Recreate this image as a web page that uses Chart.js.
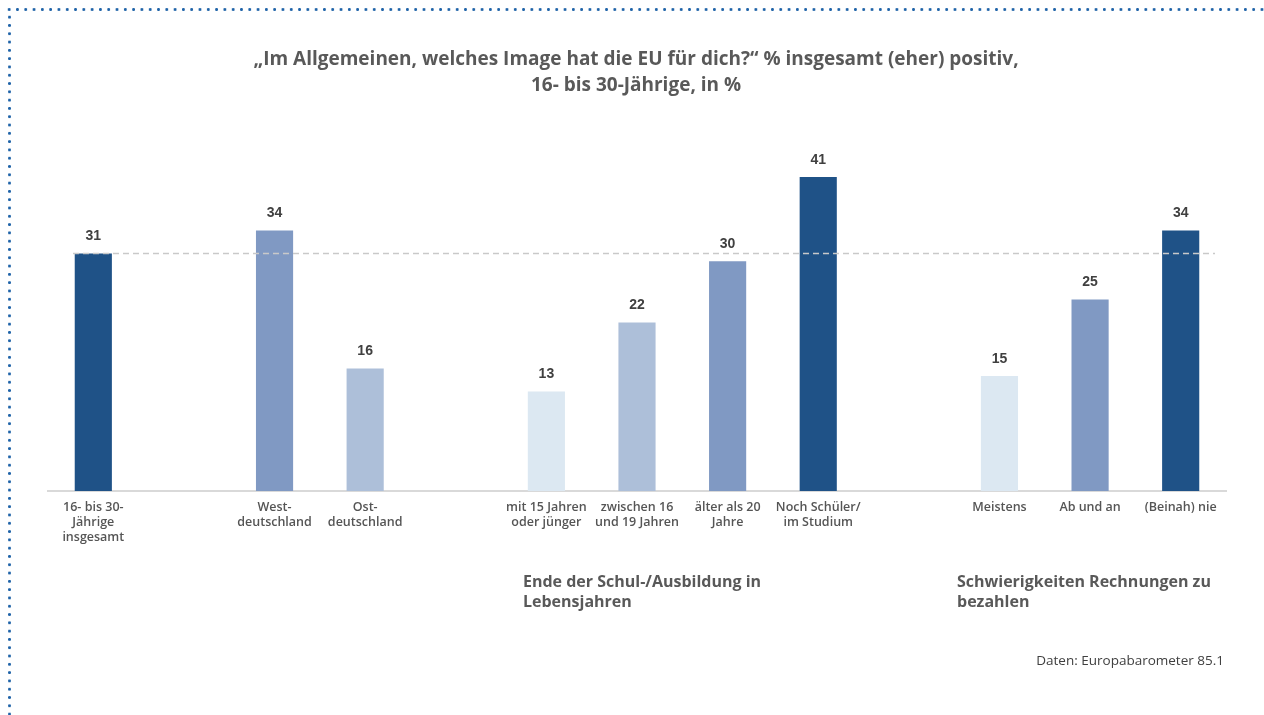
<!DOCTYPE html>
<html lang="de">
<head>
<meta charset="utf-8">
<title>Image der EU – 16- bis 30-Jährige</title>
<script src="https://cdn.jsdelivr.net/npm/chart.js@4/dist/chart.umd.min.js"></script>
<style>
  html, body { margin: 0; padding: 0; background: #ffffff; }
  #wrap { position: relative; width: 1264px; height: 715px; overflow: hidden; }
  #chart { position: absolute; left: 0; top: 0; }
  .dots-top { position: absolute; left: 5px; top: 5px; width: 1259px; height: 9px;
    background-image: radial-gradient(circle, #1f63a8 1.2px, rgba(255,255,255,0) 1.7px);
    background-size: 8.3px 9px; background-repeat: repeat-x; }
  .dots-left { position: absolute; left: 5px; top: 13px; width: 9px; height: 702px;
    background-image: radial-gradient(circle, #1f63a8 1.2px, rgba(255,255,255,0) 1.7px);
    background-size: 9px 8.3px; background-repeat: repeat-y; }
  .title { position: absolute; left: 0; width: 1272px; top: 45px; text-align: center;
    font-family: "Open Sans", sans-serif; font-weight: 700;
    font-size: 19px; line-height: 26px; color: #595959; }
  .group { position: absolute; top: 571px;
    font-family: "Open Sans", sans-serif; font-weight: 700;
    font-size: 16px; line-height: 20px; color: #595959; }
  .source { position: absolute; right: 40px; top: 651px;
    font-family: "Open Sans", sans-serif; font-weight: 400;
    font-size: 13.5px; line-height: 18px; color: #404040; }
</style>
</head>
<body>
<div id="wrap">
  <div class="dots-top"></div>
  <div class="dots-left"></div>
  <canvas id="chart" width="1264" height="715"></canvas>
  <div class="title">„Im Allgemeinen, welches Image hat die EU für dich?“ % insgesamt (eher) positiv,<br>16- bis 30-Jährige, in %</div>
  <div class="group" style="left:523px">Ende der Schul-/Ausbildung in<br>Lebensjahren</div>
  <div class="group" style="left:957px">Schwierigkeiten Rechnungen zu<br>bezahlen</div>
  <div class="source">Daten: Europabarometer 85.1</div>
</div>
<script>
// Categories (empty strings are spacer slots between the groups)
const categories = [
  ['16- bis 30-', 'Jährige', 'insgesamt'],
  '',
  ['West-', 'deutschland'],
  ['Ost-', 'deutschland'],
  '',
  ['mit 15 Jahren', 'oder jünger'],
  ['zwischen 16', 'und 19 Jahren'],
  ['älter als 20', 'Jahre'],
  ['Noch Schüler/', 'im Studium'],
  '',
  'Meistens',
  'Ab und an',
  '(Beinah) nie'
];

// Share "(eher) positiv", in %
const positiveShare = [31, null, 34, 16, null, 13, 22, 30, 41, null, 15, 25, 34];

// Reference line: all 16- bis 30-Jährige
const overallValue = 31;

// Shade per bar
const dark = '#1f5287', mid = '#8099c3', light = '#adbfd9', pale = '#dce8f2';
const barColors = [dark, null, mid, light, null, pale, light, mid, dark, null, pale, mid, dark];

const valueLabels = {
  id: 'valueLabels',
  afterDatasetsDraw(chart) {
    const { ctx } = chart;
    const meta = chart.getDatasetMeta(0);
    ctx.save();
    ctx.font = 'bold 14px "Liberation Sans", Arial, sans-serif';
    ctx.fillStyle = '#404040';
    ctx.textAlign = 'center';
    ctx.textBaseline = 'middle';
    meta.data.forEach((bar, i) => {
      const v = positiveShare[i];
      if (v == null) return;
      ctx.fillText(String(v), bar.x, bar.y - 17);
    });
    ctx.restore();
  }
};

const overallLine = {
  id: 'overallLine',
  afterDatasetsDraw(chart) {
    const { ctx, chartArea } = chart;
    const y = chart.scales.y.getPixelForValue(overallValue);
    ctx.save();
    ctx.strokeStyle = '#c9c9c9';
    ctx.lineWidth = 1.5;
    ctx.setLineDash([6, 4]);
    ctx.beginPath();
    ctx.moveTo(chartArea.left + 25, y);
    ctx.lineTo(chartArea.right - 11, y);
    ctx.stroke();
    ctx.restore();
  }
};

new Chart(document.getElementById('chart'), {
  type: 'bar',
  data: {
    labels: categories,
    datasets: [{
      data: positiveShare,
      backgroundColor: barColors,
      borderWidth: 0,
      categoryPercentage: 1,
      barPercentage: 0.41
    }]
  },
  options: {
    responsive: false,
    animation: false,
    layout: { padding: { left: 48, right: 38, top: 108, bottom: 0 } },
    plugins: {
      legend: { display: false },
      title: { display: false },
      tooltip: { enabled: false }
    },
    scales: {
      x: {
        offset: true,
        grid: { display: false, drawTicks: false },
        border: { display: true, color: '#d9d9d9', width: 2 },
        ticks: {
          autoSkip: false,
          maxRotation: 0,
          padding: 9,
          color: '#555555',
          font: { family: '"Open Sans", sans-serif', weight: '600', size: 12.5, lineHeight: 1.2 }
        },
        afterFit(scale) { scale.height = 224; }
      },
      y: {
        display: false,
        min: 0,
        max: 50
      }
    }
  },
  plugins: [valueLabels, overallLine]
});
</script>
</body>
</html>
